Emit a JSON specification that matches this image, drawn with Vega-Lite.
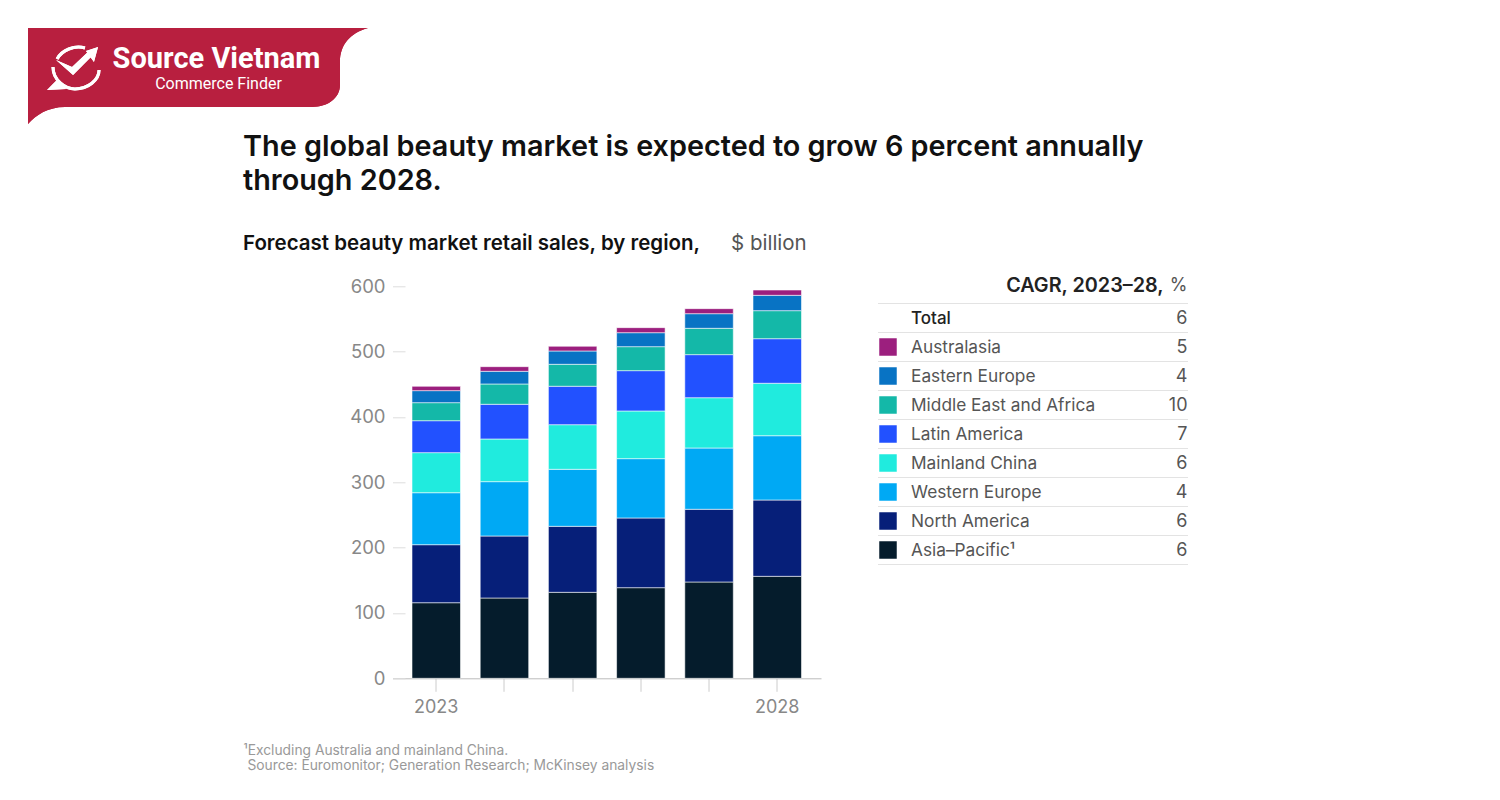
{"$schema":"https://vega.github.io/schema/vega-lite/v6.json","background":"white","padding":{"left":28,"top":28,"right":312,"bottom":27},"bounds":"flush","spacing":162.3,"config":{"view":{"stroke":null},"font":"Inter"},"vconcat":[{"width":340,"height":96,"data":{"values":[{"brand":"Source Vietnam"},{"brand":"Commerce Finder"}]},"layer":[{"mark":{"type":"point","filled":true,"fill":"#B81F3F","opacity":1,"size":115600,"shape":"M -1 -0.282 L 1 -0.282 C 0.894 -0.253 0.835 -0.182 0.835 -0.082 L 0.835 0.053 C 0.835 0.129 0.765 0.182 0.671 0.182 L -0.782 0.182 C -0.882 0.182 -0.953 0.229 -1 0.282 Z"},"encoding":{}},{"mark":{"type":"point","filled":false,"stroke":"white","strokeWidth":3,"opacity":1,"size":115600,"shape":"M -0.829 -0.1 C -0.8 -0.153 -0.729 -0.182 -0.665 -0.165 M -0.853 -0.053 C -0.853 0.024 -0.782 0.076 -0.724 0.076 C -0.647 0.076 -0.582 0.024 -0.582 -0.035"},"encoding":{}},{"mark":{"type":"point","filled":true,"fill":"white","opacity":1,"size":115600,"shape":"M -0.835 -0.094 L -0.741 -0.053 L -0.635 -0.153 L -0.612 -0.129 L -0.735 -0.006 Z M -0.659 -0.147 L -0.588 -0.171 L -0.612 -0.082 Z M -0.888 0.082 L -0.824 0.018 L -0.776 0.076 Z"},"encoding":{}},{"transform":[{"filter":"datum.brand==='Source Vietnam'"}],"mark":{"type":"text","font":"Roboto","fill":"white","xOffset":18.5,"baseline":"middle","fontSize":29,"fontWeight":700},"encoding":{"text":{"field":"brand"},"y":{"field":"brand","type":"nominal","axis":null,"scale":{"type":"point","padding":0,"domain":["Source Vietnam","Commerce Finder"],"range":[31,56]}}}},{"transform":[{"filter":"datum.brand==='Commerce Finder'"}],"mark":{"type":"text","font":"Roboto","fill":"white","xOffset":20.5,"baseline":"middle","fontSize":16,"fontWeight":400},"encoding":{"text":{"field":"brand"},"y":{"field":"brand","type":"nominal","axis":null,"scale":{"type":"point","padding":0,"domain":["Source Vietnam","Commerce Finder"],"range":[31,56]}}}}]},{"bounds":"flush","spacing":56.5,"hconcat":[{"width":308,"height":10,"data":{"values":[{}]},"mark":{"type":"point","opacity":0},"encoding":{}},{"width":428.5,"height":392,"title":{"text":["The global beauty market is expected to grow 6 percent annually","through 2028."],"subtitle":"Forecast beauty market retail sales, by region,","anchor":"start","frame":"group","dx":-149.5,"offset":-21,"font":"Inter","fontSize":28.8,"fontWeight":600,"color":"#111","lineHeight":34,"subtitleFont":"Inter","subtitleFontSize":20.5,"subtitleFontWeight":600,"subtitleColor":"#111","subtitlePadding":38},"data":{"values":[{"year":2023,"region":"Asia–Pacific","stackOrder":1,"sales":115.7},{"year":2023,"region":"North America","stackOrder":2,"sales":88.8},{"year":2023,"region":"Western Europe","stackOrder":3,"sales":79.6},{"year":2023,"region":"Mainland China","stackOrder":4,"sales":61.3},{"year":2023,"region":"Latin America","stackOrder":5,"sales":48.9},{"year":2023,"region":"Middle East and Africa","stackOrder":6,"sales":27.6},{"year":2023,"region":"Eastern Europe","stackOrder":7,"sales":18.4},{"year":2023,"region":"Australasia","stackOrder":8,"sales":6.6},{"year":2024,"region":"Asia–Pacific","stackOrder":1,"sales":122.9},{"year":2024,"region":"North America","stackOrder":2,"sales":94.9},{"year":2024,"region":"Western Europe","stackOrder":3,"sales":83.2},{"year":2024,"region":"Mainland China","stackOrder":4,"sales":65.3},{"year":2024,"region":"Latin America","stackOrder":5,"sales":53.1},{"year":2024,"region":"Middle East and Africa","stackOrder":6,"sales":31.1},{"year":2024,"region":"Eastern Europe","stackOrder":7,"sales":19.4},{"year":2024,"region":"Australasia","stackOrder":8,"sales":7.1},{"year":2025,"region":"Asia–Pacific","stackOrder":1,"sales":131.6},{"year":2025,"region":"North America","stackOrder":2,"sales":101},{"year":2025,"region":"Western Europe","stackOrder":3,"sales":87.3},{"year":2025,"region":"Mainland China","stackOrder":4,"sales":68.3},{"year":2025,"region":"Latin America","stackOrder":5,"sales":58.8},{"year":2025,"region":"Middle East and Africa","stackOrder":6,"sales":33.6},{"year":2025,"region":"Eastern Europe","stackOrder":7,"sales":20.4},{"year":2025,"region":"Australasia","stackOrder":8,"sales":7.2},{"year":2026,"region":"Asia–Pacific","stackOrder":1,"sales":138.7},{"year":2026,"region":"North America","stackOrder":2,"sales":106.7},{"year":2026,"region":"Western Europe","stackOrder":3,"sales":90.8},{"year":2026,"region":"Mainland China","stackOrder":4,"sales":73},{"year":2026,"region":"Latin America","stackOrder":5,"sales":61.7},{"year":2026,"region":"Middle East and Africa","stackOrder":6,"sales":36.7},{"year":2026,"region":"Eastern Europe","stackOrder":7,"sales":21.4},{"year":2026,"region":"Australasia","stackOrder":8,"sales":7.7},{"year":2027,"region":"Asia–Pacific","stackOrder":1,"sales":147.4},{"year":2027,"region":"North America","stackOrder":2,"sales":111.3},{"year":2027,"region":"Western Europe","stackOrder":3,"sales":93.8},{"year":2027,"region":"Mainland China","stackOrder":4,"sales":77},{"year":2027,"region":"Latin America","stackOrder":5,"sales":65.9},{"year":2027,"region":"Middle East and Africa","stackOrder":6,"sales":40.3},{"year":2027,"region":"Eastern Europe","stackOrder":7,"sales":22.4},{"year":2027,"region":"Australasia","stackOrder":8,"sales":7.7},{"year":2028,"region":"Asia–Pacific","stackOrder":1,"sales":156.1},{"year":2028,"region":"North America","stackOrder":2,"sales":116.8},{"year":2028,"region":"Western Europe","stackOrder":3,"sales":98.4},{"year":2028,"region":"Mainland China","stackOrder":4,"sales":80.3},{"year":2028,"region":"Latin America","stackOrder":5,"sales":68.2},{"year":2028,"region":"Middle East and Africa","stackOrder":6,"sales":42.9},{"year":2028,"region":"Eastern Europe","stackOrder":7,"sales":23.5},{"year":2028,"region":"Australasia","stackOrder":8,"sales":8.1}]},"mark":{"type":"bar","stroke":"#ffffff","strokeWidth":0.8,"strokeOpacity":0.7},"encoding":{"x":{"field":"year","type":"ordinal","scale":{"type":"band","paddingInner":0.289,"paddingOuter":0.286},"axis":{"title":["¹Excluding Australia and mainland China.","\u200b\u00a0Source: Euromonitor; Generation Research; McKinsey analysis"],"titleX":-149.5,"titleY":76,"titleAlign":"left","titleAnchor":"start","titleBaseline":"alphabetic","titleFontSize":13.8,"titleFontWeight":400,"titleColor":"#999","titleLineHeight":15,"labelAngle":0,"labelExpr":"datum.value==2023||datum.value==2028?datum.label:''","labelFontSize":18,"labelColor":"#888","labelPadding":7,"labelFontWeight":400,"tickSize":13,"tickColor":"#ccc","domainColor":"#bbb","labelOverlap":false}},"y":{"field":"sales","type":"quantitative","stack":"zero","scale":{"domain":[0,600],"nice":false},"axis":{"values":[0,100,200,300,400,500,600],"title":"$ billion","titleX":338,"titleY":-43,"titleAngle":0,"titleAlign":"left","titleBaseline":"middle","titleFontSize":20.5,"titleFontWeight":400,"titleColor":"#555","labelFontSize":18.5,"labelColor":"#888","labelPadding":20,"tickSize":-12.5,"tickColor":"#ddd","domain":false,"grid":false}},"color":{"field":"region","type":"nominal","legend":null,"scale":{"domain":["Australasia","Eastern Europe","Middle East and Africa","Latin America","Mainland China","Western Europe","North America","Asia–Pacific"],"range":["#9C1F7E","#0873C4","#14B8A8","#2251FF","#20EBDE","#00A9F4","#061F79","#051C2C"]}},"order":{"field":"stackOrder"}}},{"width":310,"height":278,"data":{"values":[{"row":"Total","cagr":6},{"row":"Australasia","cagr":5},{"row":"Eastern Europe","cagr":4},{"row":"Middle East and Africa","cagr":10},{"row":"Latin America","cagr":7},{"row":"Mainland China","cagr":6},{"row":"Western Europe","cagr":4},{"row":"North America","cagr":6},{"row":"Asia–Pacific","cagr":6}]},"layer":[{"data":{"values":[{"row":"Header"},{"row":"Total"},{"row":"Australasia"},{"row":"Eastern Europe"},{"row":"Middle East and Africa"},{"row":"Latin America"},{"row":"Mainland China"},{"row":"Western Europe"},{"row":"North America"},{"row":"Asia–Pacific"}]},"mark":{"type":"rule","stroke":"#e3e3e3","strokeWidth":1},"encoding":{"y":{"field":"row","type":"nominal","bandPosition":1,"axis":null,"scale":{"type":"band","paddingInner":0,"paddingOuter":0,"domain":["Header","Total","Australasia","Eastern Europe","Middle East and Africa","Latin America","Mainland China","Western Europe","North America","Asia–Pacific"],"range":[-11.8,278.2]}}}},{"transform":[{"filter":"datum.row!=='Total'"}],"mark":{"type":"point","shape":"square","filled":true,"opacity":1,"size":306,"xOffset":-23},"encoding":{"x":{"datum":"name","type":"nominal","axis":null,"scale":{"type":"point","padding":0,"domain":["name","value"],"range":[33,309.5]}},"y":{"field":"row","type":"nominal","axis":null},"color":{"field":"row","type":"nominal","legend":null,"scale":{"domain":["Australasia","Eastern Europe","Middle East and Africa","Latin America","Mainland China","Western Europe","North America","Asia–Pacific"],"range":["#9C1F7E","#0873C4","#14B8A8","#2251FF","#20EBDE","#00A9F4","#061F79","#051C2C"]}}}},{"transform":[{"filter":"datum.row!=='Total'"},{"calculate":"datum.row==='Asia–Pacific'?'Asia–Pacific¹':datum.row","as":"rowLabel"}],"mark":{"type":"text","align":"left","baseline":"middle","fontSize":17.3,"fill":"#555","yOffset":1},"encoding":{"x":{"datum":"name","type":"nominal","axis":null},"y":{"field":"row","type":"nominal","axis":null},"text":{"field":"rowLabel"}}},{"transform":[{"filter":"datum.row==='Total'"}],"mark":{"type":"text","align":"left","baseline":"middle","fontSize":17,"fontWeight":500,"fill":"#222","yOffset":1},"encoding":{"x":{"datum":"name","type":"nominal","axis":null},"y":{"field":"row","type":"nominal","axis":null},"text":{"field":"row"}}},{"mark":{"type":"text","align":"right","baseline":"middle","fontSize":18,"fill":"#555","yOffset":1},"encoding":{"x":{"datum":"value","type":"nominal","axis":null},"y":{"field":"row","type":"nominal","axis":null},"text":{"field":"cagr","type":"quantitative"}}},{"data":{"values":[{"row":"Header","head":"CAGR, 2023–28,"}]},"mark":{"type":"text","align":"right","baseline":"middle","fontSize":19.8,"fontWeight":600,"fill":"#222","xOffset":-24,"yOffset":-3},"encoding":{"x":{"datum":"value","type":"nominal","axis":null},"y":{"field":"row","type":"nominal","axis":null},"text":{"field":"head"}}},{"data":{"values":[{"row":"Header","unit":"%"}]},"mark":{"type":"text","align":"right","baseline":"middle","fontSize":18,"fill":"#555","yOffset":-3},"encoding":{"x":{"datum":"value","type":"nominal","axis":null},"y":{"field":"row","type":"nominal","axis":null},"text":{"field":"unit"}}}]}]}]}
